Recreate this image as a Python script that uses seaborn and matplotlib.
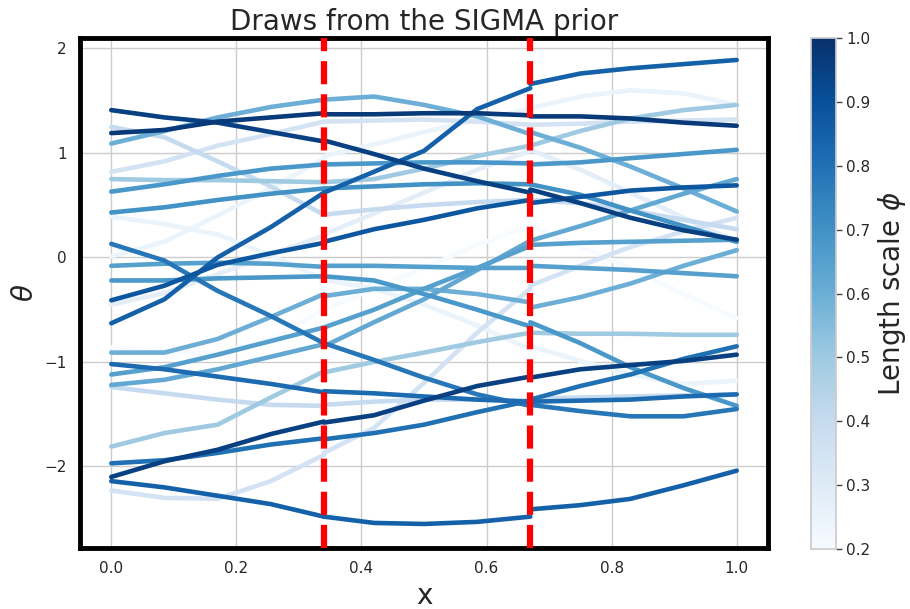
import numpy as np
import pandas as pd
import seaborn as sns
import matplotlib
matplotlib.use("Agg")
import matplotlib.pyplot as plt
from matplotlib.colors import Normalize
from matplotlib.cm import ScalarMappable

# x positions of the read-off points in each of the three pieces
x_seg1 = [0.0, 0.085, 0.17, 0.255, 0.34]
x_seg2 = [0.34, 0.42, 0.5, 0.585, 0.67]
x_seg3 = [0.67, 0.75, 0.83, 0.915, 1.0]
breaks = [0.34, 0.67]

# length scale of every draw (colour)
phi = [0.95, 0.97, 0.60, 0.35, 0.25, 0.85, 0.68, 0.50, 0.70, 0.88,
       0.65, 0.68, 0.25, 0.40, 0.28, 0.20, 0.60, 0.82, 0.65, 0.62,
       0.40, 0.50, 0.80, 0.95, 0.85, 0.35, 0.78]

# theta values of each draw, piece by piece
seg1 = [[1.41, 1.34, 1.29, 1.20, 1.11], [1.19, 1.22, 1.30, 1.34, 1.38],
        [1.09, 1.21, 1.34, 1.44, 1.51], [0.82, 0.92, 1.07, 1.18, 1.30],
        [0.01, 0.15, 0.40, 0.66, 0.95], [-0.63, -0.40, 0.00, 0.29, 0.62],
        [0.63, 0.70, 0.78, 0.85, 0.89], [0.75, 0.74, 0.74, 0.73, 0.72],
        [0.43, 0.48, 0.55, 0.61, 0.66], [-0.41, -0.27, -0.07, 0.04, 0.14],
        [-0.08, -0.06, -0.05, -0.06, -0.09], [-0.22, -0.22, -0.20, -0.19, -0.18],
        [0.39, 0.32, 0.22, 0.02, -0.21], [1.25, 1.15, 0.92, 0.68, 0.41],
        [-0.45, -0.34, -0.16, 0.03, 0.21], [-0.86, -0.90, -0.92, -0.78, -0.50],
        [-0.91, -0.91, -0.78, -0.57, -0.35], [-1.02, -1.07, -1.14, -1.21, -1.29],
        [-1.12, -1.05, -0.93, -0.80, -0.67], [-1.22, -1.17, -1.07, -0.95, -0.83],
        [-1.24, -1.30, -1.36, -1.41, -1.42], [-1.81, -1.68, -1.60, -1.34, -1.09],
        [-1.97, -1.94, -1.87, -1.79, -1.73], [-2.10, -1.95, -1.84, -1.69, -1.57],
        [-2.14, -2.20, -2.28, -2.36, -2.48], [-2.23, -2.30, -2.31, -2.14, -1.89],
        [0.13, -0.03, -0.32, -0.56, -0.82]]
seg2 = [[1.12, 0.99, 0.85, 0.73, 0.62], [1.37, 1.37, 1.38, 1.38, 1.36],
        [1.51, 1.54, 1.46, 1.35, 1.18], [1.30, 1.31, 1.32, 1.30, 1.27],
        [0.97, 1.08, 1.20, 1.32, 1.42], [0.62, 0.82, 1.02, 1.42, 1.62],
        [0.89, 0.90, 0.91, 0.91, 0.90], [0.72, 0.75, 0.85, 0.97, 1.07],
        [0.66, 0.68, 0.70, 0.71, 0.70], [0.15, 0.27, 0.36, 0.47, 0.55],
        [-0.08, -0.08, -0.09, -0.10, -0.10], [-0.18, -0.22, -0.35, -0.50, -0.66],
        [-0.21, -0.30, -0.45, -0.65, -0.88], [0.41, 0.46, 0.50, 0.53, 0.55],
        [0.22, 0.42, 0.62, 0.84, 1.02], [-0.50, -0.30, -0.10, 0.12, 0.30],
        [-0.37, -0.30, -0.30, -0.35, -0.43], [-1.28, -1.30, -1.33, -1.36, -1.38],
        [-0.67, -0.50, -0.30, -0.10, 0.11], [-0.85, -0.62, -0.40, -0.12, 0.16],
        [-1.41, -1.38, -1.36, -1.36, -1.37], [-1.10, -1.00, -0.91, -0.81, -0.72],
        [-1.74, -1.68, -1.60, -1.48, -1.37], [-1.58, -1.51, -1.37, -1.23, -1.14],
        [-2.48, -2.54, -2.55, -2.53, -2.48], [-1.87, -1.63, -1.20, -0.72, -0.30],
        [-0.82, -0.98, -1.15, -1.31, -1.42]]
seg3 = [[0.65, 0.52, 0.38, 0.26, 0.17], [1.35, 1.35, 1.33, 1.29, 1.26],
        [1.20, 1.05, 0.87, 0.66, 0.44], [1.27, 1.28, 1.30, 1.31, 1.32],
        [1.43, 1.54, 1.60, 1.57, 1.46], [1.66, 1.76, 1.81, 1.85, 1.89],
        [0.89, 0.91, 0.95, 0.99, 1.03], [1.07, 1.21, 1.33, 1.41, 1.46],
        [0.70, 0.60, 0.45, 0.30, 0.15], [0.52, 0.58, 0.64, 0.67, 0.69],
        [-0.08, -0.10, -0.12, -0.15, -0.18], [-0.62, -0.82, -1.05, -1.25, -1.42],
        [-0.85, -0.99, -1.12, -1.21, -1.18], [0.55, 0.52, 0.45, 0.36, 0.27],
        [1.03, 0.84, 0.62, 0.38, 0.15], [0.30, 0.10, -0.10, -0.35, -0.58],
        [-0.48, -0.38, -0.25, -0.08, 0.07], [-1.38, -1.37, -1.36, -1.33, -1.31],
        [0.12, 0.14, 0.15, 0.16, 0.17], [0.16, 0.30, 0.45, 0.61, 0.75],
        [-1.35, -1.34, -1.33, -1.32, -1.31], [-0.72, -0.73, -0.73, -0.74, -0.74],
        [-1.36, -1.23, -1.12, -0.97, -0.85], [-1.15, -1.07, -1.03, -0.99, -0.93],
        [-2.41, -2.37, -2.31, -2.18, -2.04], [-0.27, -0.08, 0.10, 0.25, 0.38],
        [-1.41, -1.47, -1.52, -1.52, -1.45]]

rows = []
for i in range(len(phi)):
    for j, (xs, seg) in enumerate([(x_seg1, seg1), (x_seg2, seg2), (x_seg3, seg3)]):
        for xv, yv in zip(xs, seg[i]):
            rows.append({"x": xv, "theta": yv, "phi": phi[i], "unit": f"{i}-{j}"})
df = pd.DataFrame(rows)

sns.set_theme(style="whitegrid")
fig = plt.figure(figsize=(9.1, 6.09), dpi=100)
ax = fig.add_axes([80 / 910, 61 / 609, 688 / 910, 510 / 609])

sns.lineplot(data=df, x="x", y="theta", hue="phi", units="unit", estimator=None,
             palette="Blues", hue_norm=(0.2, 1.0), linewidth=3.3, sort=False,
             legend=False, ax=ax)

for b in breaks:
    ax.axvline(b, color="red", linestyle="--", linewidth=4.5, zorder=5)

ax.set_xlim(-0.05, 1.05)
ax.set_ylim(-2.78, 2.1)
ax.set_xticks([0.0, 0.2, 0.4, 0.6, 0.8, 1.0])
ax.set_yticks([-2, -1, 0, 1, 2])
ax.tick_params(labelsize=11)
ax.set_title("Draws from the SIGMA prior", fontsize=20)
ax.set_xlabel("x", fontsize=20)
ax.set_ylabel(r"$\theta$", fontsize=20)
for sp in ax.spines.values():
    sp.set_color("black")
    sp.set_linewidth(3.5)

cax = fig.add_axes([811 / 910, 60 / 609, 25 / 910, 511 / 609])
sm = ScalarMappable(norm=Normalize(0.2, 1.0), cmap="Blues")
cb = fig.colorbar(sm, cax=cax)
cb.set_ticks(np.arange(0.2, 1.01, 0.1))
cb.ax.tick_params(labelsize=11, length=4, width=1, color="#444444")
cb.outline.set_edgecolor("#cccccc")
cb.set_label(r"Length scale $\phi$", fontsize=20)

fig.savefig("out.png", dpi=100)
